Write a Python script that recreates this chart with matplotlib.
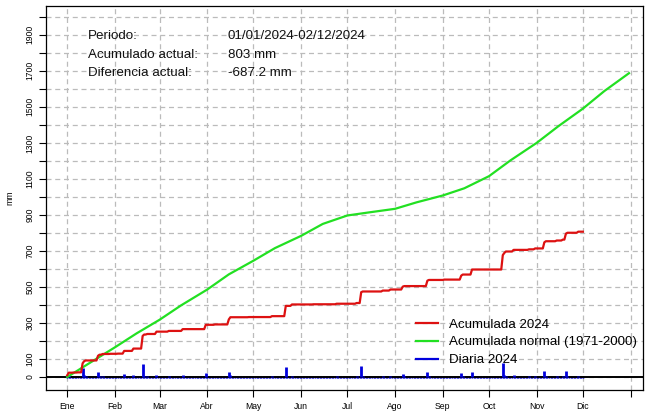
import matplotlib
matplotlib.use('Agg')
import matplotlib.pyplot as plt
from matplotlib.lines import Line2D
import numpy as np

plt.rcParams['font.family'] = ['Liberation Sans', 'DejaVu Sans']

# meses (dia del año en que empieza cada mes)
month_days = [0, 31, 60, 91, 121, 152, 182, 213, 244, 274, 305, 335, 366]
month_labels = ['Ene', 'Feb', 'Mar', 'Abr', 'May', 'Jun', 'Jul', 'Ago', 'Sep', 'Oct', 'Nov', 'Dic', '']

# eje y
y_ticks = list(range(0, 2001, 100))
y_labels = ['0', '100', '', '300', '', '500', '', '700', '', '900', '', '1100', '',
            '1300', '', '1500', '', '1700', '', '1900', '']

# precipitacion diaria 2024 (dias con lluvia)
rain_days = [0, 1, 4, 7, 10, 11, 12, 20, 21, 23, 28, 33, 37, 43, 49, 50, 52, 58, 66, 75,
             90, 96, 105, 106, 118, 133, 142, 146, 160, 175, 188, 191, 192, 205, 210,
             218, 219, 234, 235, 245, 256, 257, 263, 283, 284, 285, 290, 300, 304,
             310, 311, 318, 322, 324, 325, 332]
rain_mm = [10, 14, 1, 1, 50, 12, 4, 26, 6, 4, 1, 1, 15, 13, 70, 8, 3, 13, 4, 10,
           24, 2, 28, 12, 1, 5, 57, 8, 1, 3, 4, 60, 4, 5, 6,
           16, 3, 30, 4, 2, 22, 6, 28, 80, 12, 8, 9, 3, 5,
           34, 6, 4, 5, 33, 5, 6]
n_days = 336

# acumulada normal (1971-2000)
normal_days = [0, 14, 31, 45, 60, 74, 91, 105, 121, 135, 152, 166, 182, 196, 213, 227,
               244, 258, 274, 288, 305, 319, 335, 349, 365]
normal_acc = [0, 75, 165, 242, 318, 398, 486, 570, 646, 716, 784, 850, 897, 914, 934, 970,
              1008, 1048, 1115, 1203, 1300, 1392, 1490, 1588, 1687]

daily = np.zeros(n_days)
daily[rain_days] = rain_mm
days = np.arange(n_days)
acc = np.cumsum(daily)

fig = plt.figure(figsize=(6.47, 4.12), dpi=100)
ax = fig.add_axes([0.0706, 0.0534, 0.923, 0.932])

grid_kw = dict(color='#BBBBBB', lw=0.9, ls=(0, (4, 3)), zorder=0)
for d in month_days:
    ax.axvline(d, **grid_kw)
for v in y_ticks:
    ax.axhline(v, **grid_kw)

ax.plot(days, np.zeros(n_days), 'o', color='#0000DD', ms=1.6, mew=0, zorder=2)
ax.axhline(0, color='black', lw=1.4, zorder=3)
ax.vlines(days, 0, daily, color='#0000DD', lw=2, zorder=4)
ax.plot(normal_days, normal_acc, color='#22E022', lw=1.6, zorder=5)
ax.plot(days, acc, color='#DD1111', lw=1.6, zorder=6)

ax.set_xlim(-14, 374)
ax.set_ylim(-72, 2060)
ax.set_xticks(month_days)
ax.set_xticklabels(month_labels, fontsize=6.2)
ax.set_yticks(y_ticks)
ax.set_yticklabels(y_labels, fontsize=6.2, rotation=90, va='center')
ax.tick_params(length=5, width=0.8, pad=3)
ax.tick_params(axis='x', pad=4)
ax.set_ylabel('mm', fontsize=6.2, labelpad=8)
for s in ax.spines.values():
    s.set_linewidth(0.9)

txt_kw = dict(transform=ax.transAxes, fontsize=9.6, va='center', color='#111111')
ax.text(0.0708, 0.922, 'Periodo:', **txt_kw)
ax.text(0.305, 0.922, '01/01/2024-02/12/2024', **txt_kw)
ax.text(0.0708, 0.872, 'Acumulado actual:', **txt_kw)
ax.text(0.305, 0.872, '803 mm', **txt_kw)
ax.text(0.0708, 0.826, 'Diferencia actual:', **txt_kw)
ax.text(0.305, 0.826, '-687.2 mm', **txt_kw)

handles = [Line2D([], [], color='#DD1111', lw=1.6),
           Line2D([], [], color='#22E022', lw=1.6),
           Line2D([], [], color='#0000DD', lw=1.6)]
ax.legend(handles, ['Acumulada 2024', 'Acumulada normal (1971-2000)', 'Diaria 2024'],
          loc='upper left', bbox_to_anchor=(0.62, 0.187), frameon=False,
          fontsize=9.6, borderpad=0, borderaxespad=0, handlelength=1.65,
          handletextpad=0.8, labelspacing=0.42)

fig.savefig('out.png', dpi=100)
